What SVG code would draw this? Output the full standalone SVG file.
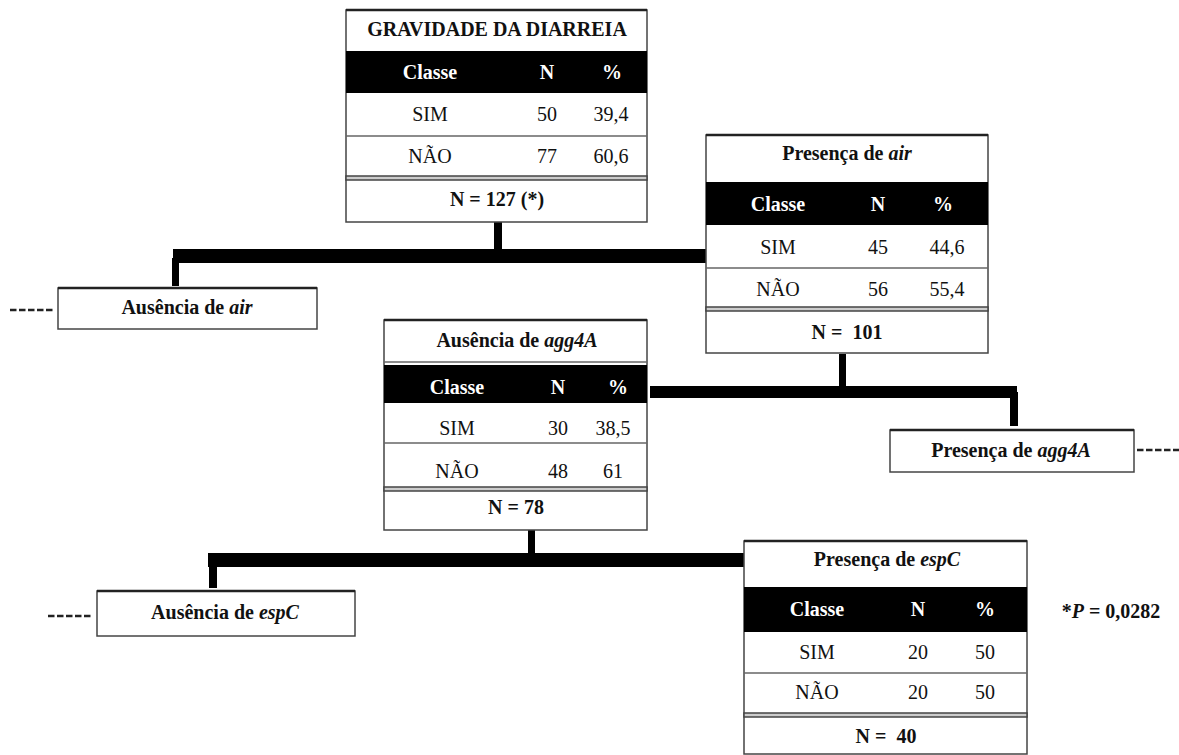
<svg xmlns="http://www.w3.org/2000/svg" width="1179" height="755" viewBox="0 0 1179 755">
<defs>
<style>
text{font-family:"Liberation Serif","Times New Roman",serif;font-size:20px;fill:#111;text-anchor:middle;white-space:pre}
.b{font-weight:bold}
.i{font-style:italic}
.h{font-weight:bold;fill:#fff}
.box{fill:#fff;stroke:#444;stroke-width:1.5}
.topb{stroke:#222;stroke-width:2.5}
.sep{stroke:#666;stroke-width:1.5}
.band{fill:#000}
.dbl{fill:#ccc;stroke:#444;stroke-width:1.5}
.dash{stroke:#222;stroke-width:2.5;stroke-dasharray:6.5 2.5}
.con{fill:#000}
</style>
</defs>
<rect width="1179" height="755" fill="#fff"/>

<g id="connectors">
<rect class="con" x="494" y="222" width="8" height="29"/>
<rect class="con" x="173" y="249" width="534" height="14"/>
<rect class="con" x="172" y="258" width="7" height="28"/>
<rect class="con" x="839" y="354" width="7" height="33"/>
<rect class="con" x="650" y="386" width="367" height="12"/>
<rect class="con" x="1010" y="392" width="8" height="34"/>
<rect class="con" x="528" y="530" width="7" height="25"/>
<rect class="con" x="208" y="553" width="536" height="14"/>
<rect class="con" x="209" y="560" width="8" height="28"/>
</g>

<g id="node-gravidade">
<rect class="box" x="346" y="10" width="301" height="212"/>
<line class="topb" x1="346" y1="10" x2="647" y2="10"/>
<rect class="band" x="346" y="51" width="301" height="42"/>
<line class="sep" x1="346" y1="136" x2="647" y2="136"/>
<rect class="dbl" x="346" y="176" width="301" height="4"/>
<text class="b" x="497" y="36">GRAVIDADE DA DIARREIA</text>
<text class="h" x="430" y="79">Classe</text>
<text class="h" x="547" y="79">N</text>
<text class="h" x="612" y="79">%</text>
<text x="430" y="121">SIM</text>
<text x="547" y="121">50</text>
<text x="611" y="121">39,4</text>
<text x="430" y="163">NÃO</text>
<text x="547" y="163">77</text>
<text x="611" y="163">60,6</text>
<text class="b" x="497" y="206">N = 127 (*)</text>
</g>

<g id="node-presenca-air">
<rect class="box" x="706" y="135" width="282" height="218"/>
<line class="topb" x1="706" y1="135" x2="988" y2="135"/>
<rect class="band" x="706" y="182" width="282" height="43"/>
<line class="sep" x1="706" y1="268" x2="988" y2="268"/>
<rect class="dbl" x="706" y="307" width="282" height="4"/>
<text class="b" x="847" y="160">Presença de <tspan class="i">air</tspan></text>
<text class="h" x="778" y="211">Classe</text>
<text class="h" x="878" y="211">N</text>
<text class="h" x="943" y="211">%</text>
<text x="778" y="254">SIM</text>
<text x="878" y="254">45</text>
<text x="947" y="254">44,6</text>
<text x="778" y="296">NÃO</text>
<text x="878" y="296">56</text>
<text x="947" y="296">55,4</text>
<text class="b" x="847" y="339">N =  101</text>
</g>

<g id="node-ausencia-air">
<line class="dash" x1="10" y1="310" x2="55" y2="310"/>
<rect class="box" x="58" y="288" width="259" height="41"/>
<line class="topb" x1="58" y1="288" x2="317" y2="288"/>
<text class="b" x="187" y="314">Ausência de <tspan class="i">air</tspan></text>
</g>

<g id="node-ausencia-agg4a">
<rect class="box" x="384" y="320" width="263" height="210"/>
<line class="topb" x1="384" y1="320" x2="647" y2="320"/>
<line class="sep" x1="384" y1="362" x2="647" y2="362"/>
<rect class="band" x="384" y="365" width="263" height="38"/>
<line class="sep" x1="384" y1="443" x2="647" y2="443"/>
<rect class="dbl" x="384" y="487" width="263" height="4"/>
<text class="b" x="517" y="347">Ausência de <tspan class="i">agg4A</tspan></text>
<text class="h" x="457" y="394">Classe</text>
<text class="h" x="558" y="394">N</text>
<text class="h" x="618" y="394">%</text>
<text x="457" y="435">SIM</text>
<text x="558" y="435">30</text>
<text x="613" y="435">38,5</text>
<text x="457" y="478">NÃO</text>
<text x="558" y="478">48</text>
<text x="613" y="478">61</text>
<text class="b" x="516" y="514">N = 78</text>
</g>

<g id="node-presenca-agg4a">
<rect class="box" x="890" y="430" width="244" height="42"/>
<line class="topb" x1="890" y1="430" x2="1134" y2="430"/>
<line class="dash" x1="1137" y1="450" x2="1179" y2="450"/>
<text class="b" x="1011" y="457">Presença de <tspan class="i">agg4A</tspan></text>
</g>

<g id="node-ausencia-espc">
<line class="dash" x1="48" y1="616" x2="93" y2="616"/>
<rect class="box" x="97" y="591" width="258" height="45"/>
<line class="topb" x1="97" y1="591" x2="355" y2="591"/>
<text class="b" x="225" y="619">Ausência de <tspan class="i">espC</tspan></text>
</g>

<g id="node-presenca-espc">
<rect class="box" x="744" y="541" width="283" height="213"/>
<line class="topb" x1="744" y1="541" x2="1027" y2="541"/>
<rect class="band" x="744" y="587" width="283" height="45"/>
<line class="sep" x1="744" y1="673" x2="1027" y2="673"/>
<rect class="dbl" x="744" y="713" width="283" height="4"/>
<text class="b" x="887" y="566">Presença de <tspan class="i">espC</tspan></text>
<text class="h" x="817" y="616">Classe</text>
<text class="h" x="918" y="616">N</text>
<text class="h" x="985" y="616">%</text>
<text x="817" y="659">SIM</text>
<text x="918" y="659">20</text>
<text x="985" y="659">50</text>
<text x="817" y="699">NÃO</text>
<text x="918" y="699">20</text>
<text x="985" y="699">50</text>
<text class="b" x="886" y="743">N =  40</text>
</g>

<text class="b" x="1111" y="618">*<tspan class="i">P</tspan> = 0,0282</text>
</svg>
